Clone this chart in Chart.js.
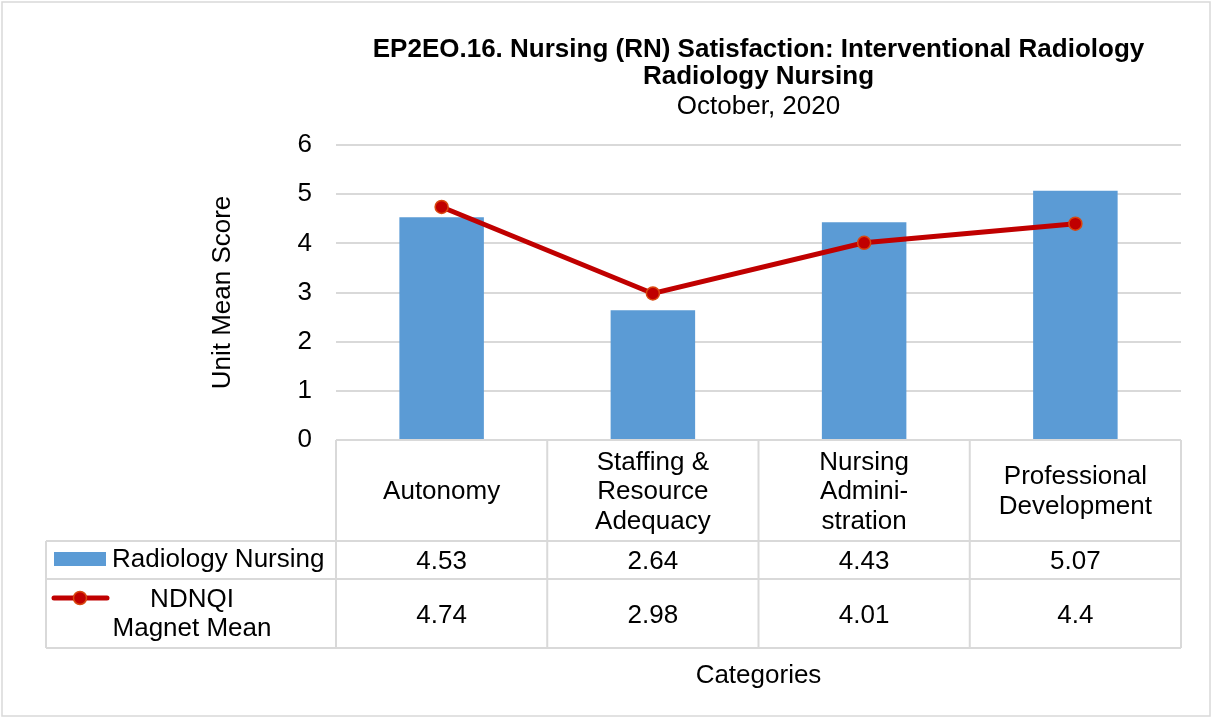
<!DOCTYPE html>
<html>
<head>
<meta charset="utf-8">
<script src="https://cdn.jsdelivr.net/npm/chart.js@4"></script>
<style>
  html, body { margin: 0; padding: 0; background: #fff; }
  canvas { display: block; }
</style>
</head>
<body>
<canvas id="chart" width="1217" height="719"></canvas>
<script>
const titleLines = ['EP2EO.16. Nursing (RN) Satisfaction: Interventional Radiology', 'Radiology Nursing'];
const subtitle = 'October, 2020';
const categories = [
  ['Autonomy'],
  ['Staffing &', 'Resource', 'Adequacy'],
  ['Nursing', 'Admini-', 'stration'],
  ['Professional', 'Development']
];
const radiologyNursing = [4.53, 2.64, 4.43, 5.07];
const magnetMean = [4.74, 2.98, 4.01, 4.4];
const yTicks = [0, 1, 2, 3, 4, 5, 6];

const FONT = '"Liberation Sans", Arial, sans-serif';
const SIZE = 26;
const BLUE = '#5B9BD5';
const RED = '#C00000';
const GRID = '#D9D9D9';

Chart.defaults.font.family = FONT;
Chart.defaults.font.size = SIZE;
Chart.defaults.color = '#000';

// title, data table and frame, drawn around the chart area
const tablePlugin = {
  id: 'dataTable',
  afterDraw(chart) {
    const ctx = chart.ctx;
    const area = chart.chartArea;
    const x = chart.scales.x;
    const colW = (area.right - area.left) / categories.length;
    const legendLeft = 46;
    const rowTop = area.bottom;
    const row1 = rowTop + 101;
    const row2 = row1 + 38;
    const row3 = row2 + 69;
    const cx = (area.left + area.right) / 2;

    ctx.save();
    // frame
    ctx.strokeStyle = GRID;
    ctx.lineWidth = 1.5;
    ctx.strokeRect(2, 2, 1208, 714);

    // title
    ctx.fillStyle = '#000';
    ctx.textAlign = 'center';
    ctx.textBaseline = 'alphabetic';
    ctx.font = 'bold ' + SIZE + 'px ' + FONT;
    ctx.fillText(titleLines[0], cx, 57);
    ctx.fillText(titleLines[1], cx, 84);
    ctx.font = SIZE + 'px ' + FONT;
    ctx.fillText(subtitle, cx, 114);

    // table lines
    ctx.strokeStyle = GRID;
    ctx.lineWidth = 2;
    ctx.beginPath();
    ctx.moveTo(area.left, rowTop); ctx.lineTo(area.right, rowTop);
    [row1, row2, row3].forEach(y => { ctx.moveTo(legendLeft, y); ctx.lineTo(area.right, y); });
    ctx.moveTo(legendLeft, row1); ctx.lineTo(legendLeft, row3);
    for (let i = 0; i <= categories.length; i++) {
      const lx = area.left + i * colW;
      ctx.moveTo(lx, rowTop); ctx.lineTo(lx, row3);
    }
    ctx.stroke();

    // category labels and values
    ctx.fillStyle = '#000';
    ctx.font = SIZE + 'px ' + FONT;
    ctx.textAlign = 'center';
    const catMid = (rowTop + row1) / 2;
    categories.forEach((lines, i) => {
      const px = x.getPixelForValue(i);
      const start = catMid + 8.5 - (lines.length - 1) * 29.5 / 2;
      lines.forEach((t, j) => ctx.fillText(t, px, start + j * 29.5));
      ctx.fillText(String(radiologyNursing[i]), px, (row1 + row2) / 2 + 8.5);
      ctx.fillText(String(magnetMean[i]), px, (row2 + row3) / 2 + 9);
    });

    // legend keys
    ctx.fillStyle = BLUE;
    ctx.fillRect(54, 552, 52, 14);
    ctx.fillStyle = '#000';
    ctx.textAlign = 'left';
    ctx.fillText('Radiology Nursing', 112, 567);

    ctx.strokeStyle = RED;
    ctx.lineWidth = 5;
    ctx.lineCap = 'round';
    ctx.beginPath();
    ctx.moveTo(54, 598); ctx.lineTo(107, 598);
    ctx.stroke();
    ctx.beginPath();
    ctx.arc(80, 598, 6.5, 0, Math.PI * 2);
    ctx.fillStyle = RED;
    ctx.fill();
    ctx.lineWidth = 1.5;
    ctx.strokeStyle = '#D9480F';
    ctx.stroke();

    ctx.fillStyle = '#000';
    ctx.textAlign = 'center';
    ctx.fillText('NDNQI', 192, 607);
    ctx.fillText('Magnet Mean', 192, 636);

    // x axis title
    ctx.fillText('Categories', cx, 683);
    ctx.restore();
  }
};

new Chart(document.getElementById('chart'), {
  type: 'bar',
  data: {
    labels: categories.map(c => c.join(' ')),
    datasets: [
      {
        type: 'line',
        label: 'NDNQI Magnet Mean',
        data: magnetMean,
        borderColor: RED,
        borderWidth: 5,
        pointRadius: 6.5,
        pointBackgroundColor: RED,
        pointBorderColor: '#D9480F',
        pointBorderWidth: 1.5,
        tension: 0,
        order: 1
      },
      {
        type: 'bar',
        label: 'Radiology Nursing',
        data: radiologyNursing,
        backgroundColor: BLUE,
        categoryPercentage: 1,
        barPercentage: 0.4,
        order: 2
      }
    ]
  },
  options: {
    responsive: false,
    animation: false,
    layout: { padding: { left: 200, right: 36, top: 145, bottom: 279 } },
    plugins: {
      legend: { display: false },
      tooltip: { enabled: false }
    },
    scales: {
      x: { display: false },
      y: {
        min: 0,
        max: 6,
        afterFit(scale) { scale.width = 136; },
        afterBuildTicks(scale) { scale.ticks = yTicks.map(v => ({ value: v })); },
        ticks: { padding: 24, font: { size: SIZE } },
        grid: { color: GRID, lineWidth: 2, drawTicks: false },
        border: { display: false },
        title: {
          display: true,
          text: 'Unit Mean Score',
          font: { size: SIZE },
          padding: { top: 7, bottom: 0 }
        }
      }
    }
  },
  plugins: [tablePlugin]
});
</script>
</body>
</html>
